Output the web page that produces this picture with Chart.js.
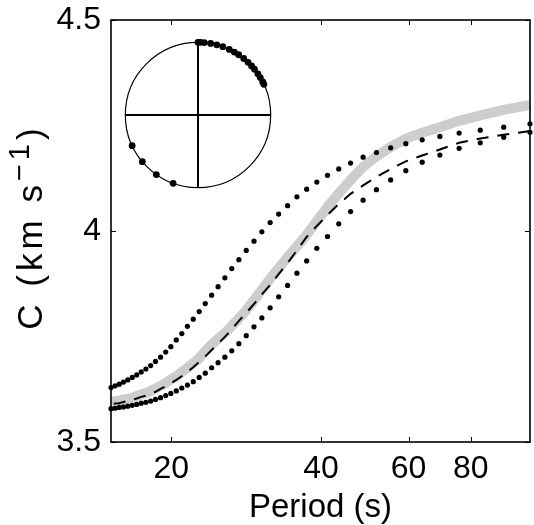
<!DOCTYPE html>
<html><head><meta charset="utf-8">
<script src="https://cdn.jsdelivr.net/npm/chart.js@4/dist/chart.umd.min.js"></script>
<style>
html,body{margin:0;padding:0;background:#fff;}
#wrap{position:relative;width:534px;height:525px;overflow:hidden;}
#main{position:absolute;left:0;top:0;}
#inset{position:absolute;left:118px;top:35px;}
</style></head><body>
<div id="wrap"><canvas id="main" width="534" height="525"></canvas><canvas id="inset" width="160" height="160"></canvas></div>
<script>
// Period (s)
const periods = [105.26, 93.20, 83.61, 75.82, 69.35, 63.90, 59.24, 55.22, 51.71, 48.61,
  45.87, 43.42, 41.22, 39.23, 37.43, 35.78, 34.27, 32.88, 31.61, 30.42,
  29.33, 28.30, 27.35, 26.46, 25.63, 24.84, 24.11, 23.41, 22.76, 22.14,
  21.55, 21.00, 20.47, 19.96, 19.49, 19.03, 18.59, 18.18, 17.78, 17.40,
  17.04, 16.69, 16.35, 16.03, 15.72, 15.42, 15.13];
// Upper dotted curve (km/s)
const fastC = [4.254, 4.246, 4.239, 4.232, 4.224, 4.216, 4.207, 4.197, 4.186, 4.175,
  4.161, 4.147, 4.132, 4.116, 4.099, 4.081, 4.060, 4.040, 4.020, 3.998,
  3.976, 3.954, 3.932, 3.911, 3.889, 3.868, 3.848, 3.828, 3.809, 3.791,
  3.774, 3.757, 3.742, 3.726, 3.713, 3.701, 3.691, 3.681, 3.673, 3.666,
  3.659, 3.653, 3.647, 3.642, 3.637, 3.633, 3.629];
// Lower dotted curve
const slowC = [4.234, 4.222, 4.209, 4.196, 4.180, 4.163, 4.143, 4.121, 4.098, 4.073,
  4.046, 4.017, 3.987, 3.959, 3.929, 3.900, 3.871, 3.844, 3.818, 3.794,
  3.773, 3.752, 3.733, 3.716, 3.701, 3.688, 3.676, 3.663, 3.653, 3.643,
  3.635, 3.628, 3.621, 3.615, 3.610, 3.605, 3.601, 3.597, 3.594, 3.592,
  3.589, 3.587, 3.585, 3.583, 3.582, 3.580, 3.579];
// Dashed curve
const dashC = [4.237, 4.228, 4.219, 4.209, 4.193, 4.179, 4.165, 4.147, 4.128, 4.108,
  4.088, 4.064, 4.038, 4.012, 3.986, 3.954, 3.924, 3.898, 3.872, 3.850,
  3.827, 3.806, 3.787, 3.767, 3.749, 3.733, 3.718, 3.703, 3.690, 3.677,
  3.666, 3.656, 3.647, 3.639, 3.632, 3.626, 3.619, 3.615, 3.610, 3.607,
  3.603, 3.600, 3.597, 3.595, 3.592, 3.591, 3.589];
// Thick grey curve
const greyC = [4.299, 4.287, 4.274, 4.261, 4.246, 4.233, 4.219, 4.199, 4.177, 4.152,
  4.121, 4.089, 4.057, 4.023, 3.991, 3.964, 3.938, 3.912, 3.887, 3.861,
  3.836, 3.812, 3.793, 3.775, 3.758, 3.745, 3.731, 3.716, 3.698, 3.687,
  3.675, 3.666, 3.656, 3.648, 3.640, 3.633, 3.627, 3.621, 3.616, 3.613,
  3.609, 3.605, 3.602, 3.601, 3.598, 3.597, 3.595];
const xTicks = [20, 40, 60, 80];
const yTicks = [3.5, 4, 4.5];
const xTitle = 'Period (s)';
const yTitleMain = 'C (km s';
const yTitleSup = '\u22121';
const yTitleEnd = ')';
// Inset: azimuths (degrees clockwise from north)
const azimuths = [0, 2, 5, 10, 15, 20, 25.5, 30, 34, 39, 43.5, 47.5, 51, 55.5, 59, 63, 65,
  200, 215, 230, 245];

const FONT = '"Liberation Sans", Arial, Helvetica, sans-serif';
const pts = arr => periods.map((p, i) => ({x: p, y: arr[i]}));

const boxPlugin = {
  id: 'box',
  afterDatasetsDraw(chart) {
    const {ctx, chartArea: a, scales: {x, y}} = chart;
    ctx.save();
    ctx.strokeStyle = '#000';
    ctx.lineWidth = 1.6;
    ctx.strokeRect(a.left, a.top, a.right - a.left, a.bottom - a.top);
    const tl = 5;
    ctx.lineWidth = 1;
    ctx.beginPath();
    x.ticks.forEach(t => {
      const px = Math.round(x.getPixelForValue(t.value)) + 0.5;
      ctx.moveTo(px, a.bottom); ctx.lineTo(px, a.bottom - tl);
      ctx.moveTo(px, a.top); ctx.lineTo(px, a.top + tl);
    });
    y.ticks.forEach(t => {
      const py = Math.round(y.getPixelForValue(t.value)) + 0.5;
      ctx.moveTo(a.left, py); ctx.lineTo(a.left + tl, py);
      ctx.moveTo(a.right, py); ctx.lineTo(a.right - tl, py);
    });
    ctx.stroke();
    ctx.restore();
  },
  afterDraw(chart) {
    const {ctx, chartArea: a} = chart;
    ctx.save();
    const cy = (a.top + a.bottom) / 2 - 4;
    ctx.translate(42, cy);
    ctx.rotate(-Math.PI / 2);
    const f = '35px ' + FONT, fs = '29px ' + FONT;
    const sp = 4;
    ctx.letterSpacing = sp + 'px';
    ctx.font = f;
    const w1 = ctx.measureText(yTitleMain).width;
    const w3 = ctx.measureText(yTitleEnd).width;
    ctx.font = fs;
    const w2 = ctx.measureText(yTitleSup).width;
    const total = w1 + w2 + w3;
    let x0 = -total / 2;
    ctx.fillStyle = '#000';
    ctx.textBaseline = 'alphabetic';
    ctx.textAlign = 'left';
    ctx.font = f; ctx.fillText(yTitleMain, x0, 0);
    ctx.font = fs; ctx.fillText(yTitleSup, x0 + w1, -13);
    ctx.font = f; ctx.fillText(yTitleEnd, x0 + w1 + w2, 0);
    ctx.restore();
  }
};

new Chart(document.getElementById('main'), {
  type: 'scatter',
  data: {
    datasets: [
      {data: pts(fastC), showLine: false, pointRadius: 2.6, pointBackgroundColor: '#000', pointBorderWidth: 0, clip: false},
      {data: pts(slowC), showLine: false, pointRadius: 2.6, pointBackgroundColor: '#000', pointBorderWidth: 0, clip: false},
      {data: pts(dashC), showLine: true, borderColor: '#000', borderWidth: 2, borderDash: [12, 9], pointRadius: 0, tension: 0, clip: false},
      {data: pts(greyC), showLine: true, borderColor: '#cdcdcd', borderWidth: 10, borderCapStyle: 'butt', borderJoinStyle: 'round', pointRadius: 0, tension: 0, clip: false}
    ]
  },
  options: {
    responsive: false, animation: false, devicePixelRatio: 1,
    layout: {padding: {left: 0, top: 20, right: 2, bottom: 0}},
    plugins: {legend: {display: false}, tooltip: {enabled: false}},
    scales: {
      x: {
        type: 'logarithmic',
        min: Math.min(...periods), max: Math.max(...periods),
        afterBuildTicks: s => { s.ticks = xTicks.map(v => ({value: v})); },
        ticks: {callback: v => String(v), font: {family: FONT, size: 32}, color: '#000', padding: 8, maxRotation: 0, autoSkip: false},
        grid: {display: false, drawTicks: false},
        border: {display: false},
        title: {display: true, text: xTitle, font: {family: FONT, size: 33, lineHeight: 1.05}, color: '#000', padding: {top: 0, bottom: 0}},
        afterFit: s => { s.height = 83; s.paddingLeft = 0; s.paddingRight = 0; }
      },
      y: {
        type: 'linear', min: 3.5, max: 4.5,
        afterBuildTicks: s => { s.ticks = yTicks.map(v => ({value: v})); },
        ticks: {callback: v => String(v), font: {family: FONT, size: 32}, color: '#000', padding: 10},
        grid: {display: false, drawTicks: false},
        border: {display: false},
        afterFit: s => { s.width = 111; s.paddingTop = 0; s.paddingBottom = 0; }
      }
    }
  },
  plugins: [boxPlugin]
});

const circlePlugin = {
  id: 'circle',
  beforeDatasetsDraw(chart) {
    const {ctx, scales: {x, y}} = chart;
    const cx = x.getPixelForValue(0), cy = y.getPixelForValue(0);
    const r = x.getPixelForValue(1) - cx;
    ctx.save();
    ctx.strokeStyle = '#000';
    ctx.lineWidth = 1.2;
    ctx.beginPath(); ctx.arc(cx, cy, r, 0, Math.PI * 2); ctx.stroke();
    ctx.lineWidth = 2;
    ctx.beginPath();
    ctx.moveTo(x.getPixelForValue(-1), cy); ctx.lineTo(x.getPixelForValue(1), cy);
    ctx.moveTo(cx, y.getPixelForValue(-1)); ctx.lineTo(cx, y.getPixelForValue(1));
    ctx.stroke();
    ctx.restore();
  }
};

new Chart(document.getElementById('inset'), {
  type: 'scatter',
  data: {datasets: [{
    data: azimuths.map(a => ({x: Math.sin(a * Math.PI / 180), y: Math.cos(a * Math.PI / 180)})),
    pointRadius: 3.4, pointBackgroundColor: '#000', pointBorderWidth: 0, clip: false
  }]},
  options: {
    responsive: false, animation: false, devicePixelRatio: 1,
    layout: {padding: 0},
    plugins: {legend: {display: false}, tooltip: {enabled: false}},
    scales: {
      x: {type: 'linear', min: -1.0458, max: 1.0458, display: false},
      y: {type: 'linear', min: -1.0458, max: 1.0458, display: false}
    }
  },
  plugins: [circlePlugin]
});
</script>
</body></html>
